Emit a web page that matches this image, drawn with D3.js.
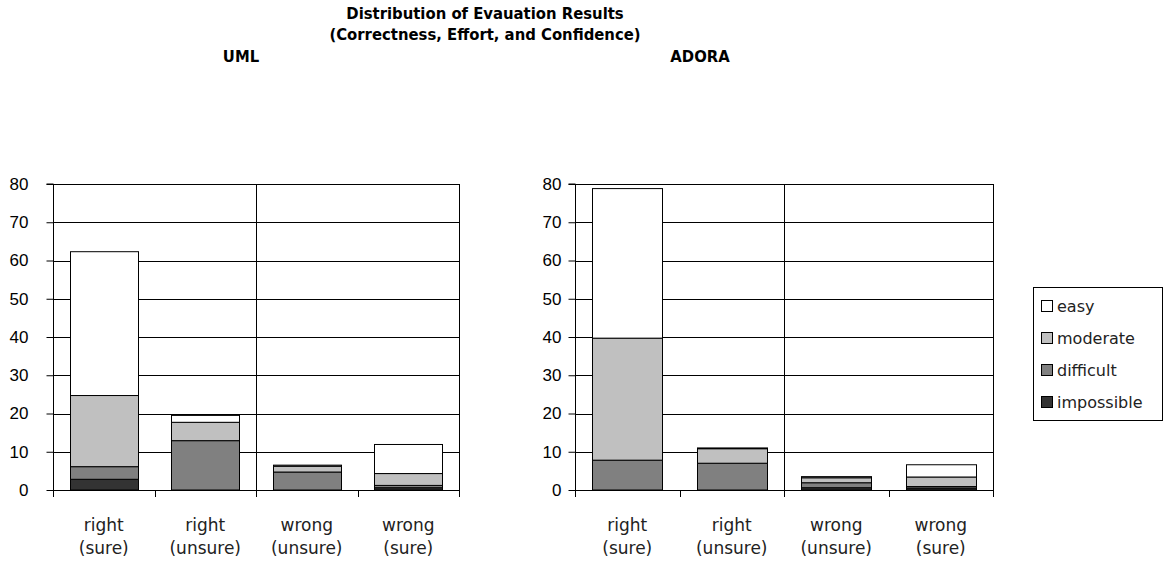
<!DOCTYPE html>
<html><head><meta charset="utf-8">
<script src="https://cdn.jsdelivr.net/npm/d3@7"></script>
<style>
body{margin:0;background:#fff;}
svg{display:block;}
</style></head>
<body>
<svg id="chart" width="1165" height="570"></svg>
<script>
const categories = ["right|(sure)", "right|(unsure)", "wrong|(unsure)", "wrong|(sure)"];
const levels = ["impossible", "difficult", "moderate", "easy"];
const levelColors = ["#333333", "#808080", "#c0c0c0", "#ffffff"];
const yTicks = [0, 10, 20, 30, 40, 50, 60, 70, 80];

const umlImpossible = [2.8, 0, 0, 0.6];
const umlDifficult  = [3.3, 12.9, 4.7, 0.6];
const umlModerate   = [18.6, 4.8, 1.5, 3.1];
const umlEasy       = [37.6, 1.8, 0.3, 7.6];

const adoraImpossible = [0, 0, 0.6, 0.5];
const adoraDifficult  = [7.8, 7.0, 1.3, 0.4];
const adoraModerate   = [31.9, 3.8, 1.3, 2.5];
const adoraEasy       = [39.1, 0.2, 0.3, 3.2];

const titleLines = ["Distribution of Evauation Results", "(Correctness, Effort, and Confidence)"];

function rows(imp, dif, mod, eas) {
  return categories.map((c, i) => ({cat: c, impossible: imp[i], difficult: dif[i], moderate: mod[i], easy: eas[i]}));
}

const svg = d3.select("#chart");
const labelFont = "'Liberation Sans', Arial, sans-serif";
const catFont = "'DejaVu Sans', sans-serif";
const titleFont = "'DejaVu Sans Condensed', 'DejaVu Sans', sans-serif";

// title
svg.append("g").selectAll("text").data(titleLines).join("text")
  .attr("x", 485).attr("y", (d, i) => 19 + i * 21)
  .attr("text-anchor", "middle")
  .style("font-family", titleFont).style("font-weight", "bold").style("font-size", "16.5px")
  .text(d => d);

const panels = [
  {name: "UML", nameX: 241, x0: 53, x1: 459, labelGap: 18, data: rows(umlImpossible, umlDifficult, umlModerate, umlEasy)},
  {name: "ADORA", nameX: 700, x0: 575, x1: 993, labelGap: 7, data: rows(adoraImpossible, adoraDifficult, adoraModerate, adoraEasy)}
];

const y = d3.scaleLinear().domain([0, 80]).range([490, 184]);
const stack = d3.stack().keys(levels);

panels.forEach(p => {
  const g = svg.append("g");
  g.append("text").attr("x", p.nameX).attr("y", 62).attr("text-anchor", "middle")
    .style("font-family", titleFont).style("font-weight", "bold").style("font-size", "16.5px")
    .text(p.name);

  const x = d3.scaleBand().domain(categories).range([p.x0, p.x1]).paddingInner(1/3).paddingOuter(1/6);
  const step = x.step();

  // horizontal gridlines
  g.append("g").selectAll("line").data(yTicks.filter(t => t > 0)).join("line")
    .attr("x1", p.x0).attr("x2", p.x1)
    .attr("y1", d => Math.round(y(d)) + 0.5).attr("y2", d => Math.round(y(d)) + 0.5)
    .attr("stroke", "#000").attr("stroke-width", 1);

  // vertical lines (middle and right edge)
  const vx = [x(categories[2]) - step * (1/6), p.x1];
  g.append("g").selectAll("line").data(vx).join("line")
    .attr("x1", d => Math.round(d) + 0.5).attr("x2", d => Math.round(d) + 0.5)
    .attr("y1", y(80)).attr("y2", y(0) + 7)
    .attr("stroke", "#000").attr("stroke-width", 1);

  // bars
  const series = stack(p.data);
  g.append("g").selectAll("g").data(series).join("g")
    .attr("fill", (d, i) => levelColors[i])
    .selectAll("rect").data(d => d).join("rect")
    .attr("x", d => Math.round(x(d.data.cat)) + 0.5)
    .attr("width", Math.round(x.bandwidth()))
    .attr("y", d => y(d[1]))
    .attr("height", d => Math.max(0, y(d[0]) - y(d[1])))
    .attr("stroke", "#000").attr("stroke-width", 1)
    .style("display", d => (d[1] - d[0]) > 0 ? null : "none");

  // y axis
  const ya = d3.axisLeft(y).tickValues(yTicks).tickSize(7).tickPadding(p.labelGap);
  const ag = g.append("g").attr("transform", `translate(${p.x0 + 0.5},0)`).call(ya);
  ag.select(".domain").attr("d", `M-7,${y(80)}H0V${y(0)}`).attr("stroke", "#000");
  ag.selectAll("text").style("font-family", labelFont).style("font-size", "17px").attr("fill", "#000");
  ag.selectAll("line").attr("stroke", "#000");

  // x axis baseline & ticks at band boundaries
  g.append("line").attr("x1", p.x0).attr("x2", p.x1)
    .attr("y1", Math.round(y(0)) + 0.5).attr("y2", Math.round(y(0)) + 0.5).attr("stroke", "#000");
  const bounds = categories.map(c => x(c) - step / 6).concat([p.x1]);
  g.append("g").selectAll("line").data(bounds).join("line")
    .attr("x1", d => Math.round(d) + 0.5).attr("x2", d => Math.round(d) + 0.5)
    .attr("y1", y(0)).attr("y2", y(0) + 7).attr("stroke", "#000");

  // category labels
  const cl = g.append("g").selectAll("text").data(categories).join("text")
    .attr("x", d => x(d) + x.bandwidth() / 2)
    .attr("y", 531).attr("text-anchor", "middle")
    .style("font-family", catFont).style("font-size", "17px").attr("fill", "#222");
  cl.selectAll("tspan").data(d => d.split("|")).join("tspan")
    .attr("x", function() { return d3.select(this.parentNode).attr("x"); })
    .attr("dy", (d, i) => i === 0 ? 0 : 23)
    .text(d => d);
});

// legend
const lg = svg.append("g");
lg.append("rect").attr("x", 1033.5).attr("y", 287.5).attr("width", 129).attr("height", 133)
  .attr("fill", "#fff").attr("stroke", "#000");
const legendOrder = levels.slice().reverse();
const li = lg.selectAll("g.item").data(legendOrder).join("g").attr("class", "item")
  .attr("transform", (d, i) => `translate(1041,${306 + i * 32})`);
li.append("rect").attr("x", 0.5).attr("y", -5.5).attr("width", 11).attr("height", 11)
  .attr("fill", d => levelColors[levels.indexOf(d)]).attr("stroke", "#000");
li.append("text").attr("x", 16).attr("y", 6)
  .style("font-family", catFont).style("font-size", "16px").attr("fill", "#222").text(d => d);
</script>
</body></html>
